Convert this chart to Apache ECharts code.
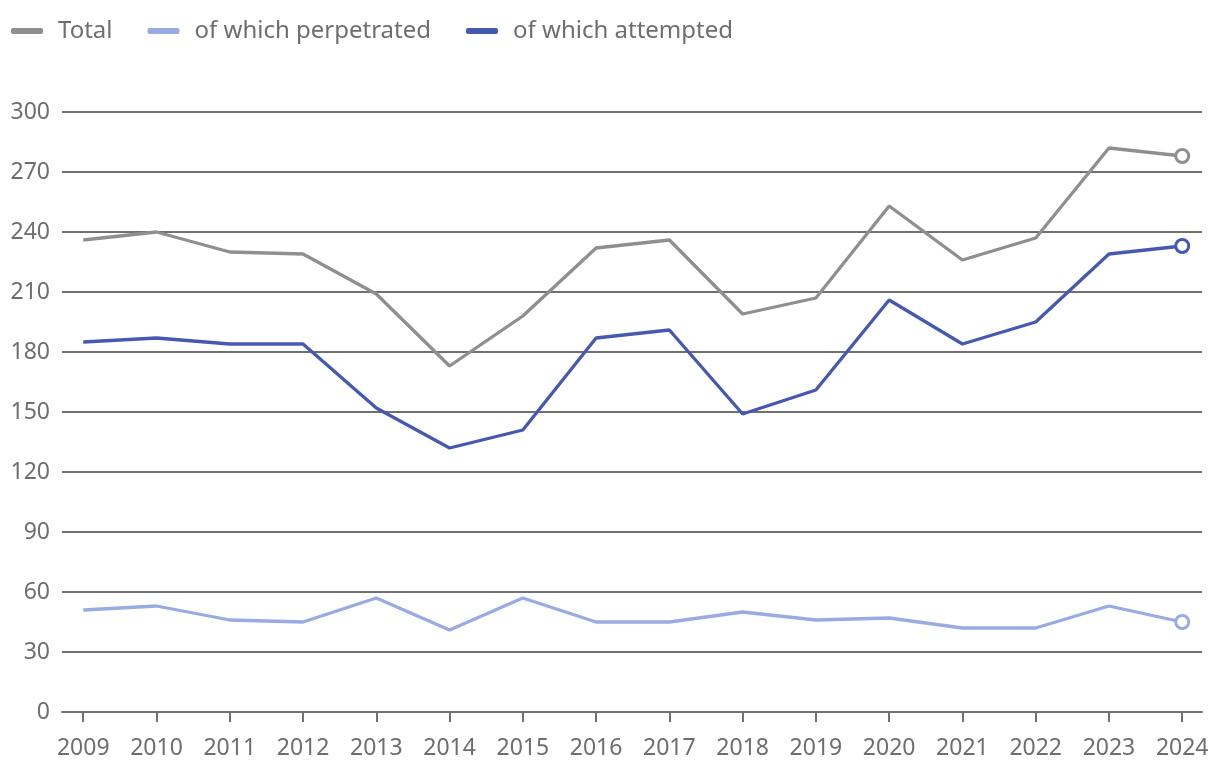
<!DOCTYPE html>
<html><head><meta charset="utf-8">
<script src="https://cdn.jsdelivr.net/npm/echarts@6/dist/echarts.min.js"></script>
<style>html,body{margin:0;padding:0;background:#fff}#c{width:1220px;height:778px}</style>
</head><body><div id="c"></div>
<script>
const years = [2009,2010,2011,2012,2013,2014,2015,2016,2017,2018,2019,2020,2021,2022,2023,2024];
const total = [236,240,230,229,209,173,198,232,236,199,207,253,226,237,282,278];
const perpetrated = [51,53,46,45,57,41,57,45,45,50,46,47,42,42,53,45];
const attempted = [185,187,184,184,152,132,141,187,191,149,161,206,184,195,229,233];
const yTicks = [0,30,60,90,120,150,180,210,240,270,300];

const font = 'Noto Sans';
const textColor = '#6e6e6e';
const axisColor = '#707070';

function mk(name, vals, color){
  const last = vals.length - 1;
  return {
    name, type:'line', color,
    data: vals.map((v,i)=>({value:[years[i], v], symbol: i===last?'circle':'none', symbolSize: 13})),
    lineStyle:{width:3.3,color},
    itemStyle:{color:'#fff',borderColor:color,borderWidth:3},
    showSymbol:true, animation:false
  };
}

const chart = echarts.init(document.getElementById('c'));
chart.setOption({
  animation:false,
  legend:{
    left:6, top:14, itemWidth:30, itemHeight:4, itemGap:35,
    icon:'roundRect',
    textStyle:{fontFamily:font,fontSize:24,color:textColor,padding:[0,0,0,11]},
    data:[{name:'Total',itemStyle:{color:'#8f8f8f'}},{name:'of which perpetrated',itemStyle:{color:'#98abe3'}},{name:'of which attempted',itemStyle:{color:'#4659b0'}}]
  },
  grid:{left:62,right:18,top:112,bottom:66,containLabel:false},
  xAxis:{
    type:'value', min:2008.71, max:2024.27,
    axisLine:{show:true,lineStyle:{color:axisColor,width:2}},
    axisTick:{show:true,customValues:years,length:10,lineStyle:{color:axisColor,width:2}},
    axisLabel:{customValues:years,formatter:v=>String(v),fontFamily:font,fontSize:23,color:textColor,margin:25},
    splitLine:{show:false}
  },
  yAxis:{
    type:'value', min:0, max:300, interval:30,
    axisLine:{show:false}, axisTick:{show:false},
    axisLabel:{fontFamily:font,fontSize:23,color:textColor,margin:12,customValues:yTicks},
    splitLine:{show:true,lineStyle:{color:axisColor,width:2}}
  },
  series:[
    mk('Total', total, '#8f8f8f'),
    mk('of which perpetrated', perpetrated, '#98abe3'),
    mk('of which attempted', attempted, '#4659b0')
  ]
});
</script></body></html>
